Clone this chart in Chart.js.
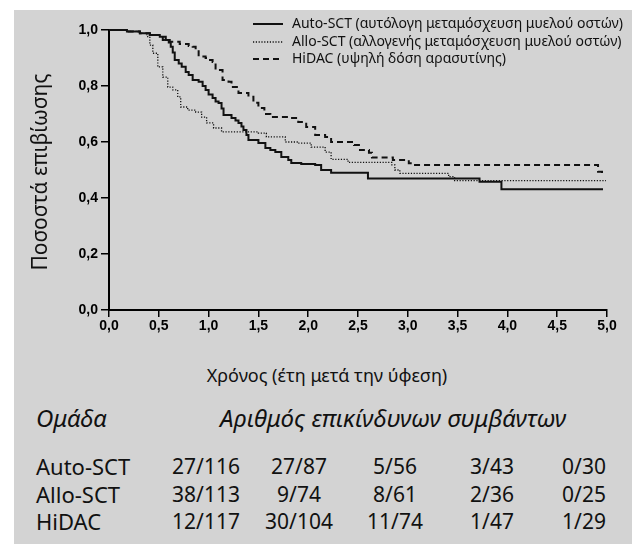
<!DOCTYPE html>
<html>
<head>
<meta charset="utf-8">
<script src="https://cdn.jsdelivr.net/npm/chart.js@4.4.1/dist/chart.umd.min.js"></script>
<style>
  html, body { margin: 0; padding: 0; background: #fff; }
  #wrap { position: relative; width: 632px; height: 544px; overflow: hidden; }
  #panel { position: absolute; left: 14px; top: 10px; width: 618px; height: 534px; background: #d3d3d3; }
  #c { position: absolute; left: 0; top: 0; }
  .t { position: absolute; font-family: "Noto Sans", sans-serif; color: #111; white-space: nowrap; height: 30px; line-height: 30px; }
</style>
</head>
<body>
<div id="wrap">
  <div id="panel"></div>
  <canvas id="c" width="632" height="340"></canvas>
</div>
<script>
// legend / series names
const seriesNames = [
  'Auto-SCT (αυτόλογη μεταμόσχευση μυελού οστών)',
  'Allo-SCT (αλλογενής μεταμόσχευση μυελού οστών)',
  'HiDAC (υψηλή δόση αρασυτίνης)'
];

// Kaplan-Meier steps (time in years, survival fraction)
const autoT = [0, 0.18, 0.31, 0.41, 0.51, 0.57, 0.60, 0.62, 0.64, 0.66, 0.70, 0.73, 0.77, 0.80, 0.84, 0.90, 0.94, 0.97, 1.00, 1.04, 1.07, 1.10, 1.13, 1.15, 1.23, 1.27, 1.30, 1.33, 1.35, 1.38, 1.40, 1.50, 1.57, 1.62, 1.67, 1.73, 1.80, 1.83, 1.93, 2.07, 2.13, 2.23, 2.60, 3.72, 3.94, 4.96];
const autoS = [1.0, 0.995, 0.988, 0.982, 0.976, 0.964, 0.955, 0.94, 0.92, 0.893, 0.88, 0.869, 0.85, 0.839, 0.821, 0.815, 0.80, 0.786, 0.77, 0.757, 0.745, 0.739, 0.72, 0.696, 0.686, 0.677, 0.668, 0.655, 0.643, 0.625, 0.607, 0.596, 0.579, 0.571, 0.564, 0.546, 0.536, 0.525, 0.521, 0.518, 0.50, 0.49, 0.47, 0.458, 0.431, 0.431];

const alloT = [0, 0.18, 0.31, 0.38, 0.41, 0.44, 0.49, 0.54, 0.59, 0.64, 0.69, 0.72, 0.79, 0.87, 0.93, 0.98, 1.05, 1.13, 1.50, 1.58, 1.77, 1.90, 2.03, 2.17, 2.23, 2.40, 2.84, 2.87, 2.92, 3.41, 3.47, 4.99];
const alloS = [1.0, 0.995, 0.988, 0.976, 0.946, 0.917, 0.868, 0.832, 0.796, 0.786, 0.761, 0.725, 0.714, 0.707, 0.689, 0.668, 0.65, 0.636, 0.632, 0.618, 0.60, 0.596, 0.582, 0.564, 0.538, 0.527, 0.518, 0.50, 0.488, 0.476, 0.462, 0.462];

const hidacT = [0, 0.18, 0.31, 0.41, 0.54, 0.61, 0.71, 0.80, 0.84, 0.87, 0.90, 0.97, 1.00, 1.04, 1.07, 1.14, 1.20, 1.23, 1.30, 1.40, 1.45, 1.50, 1.56, 1.62, 1.80, 1.90, 1.98, 2.07, 2.17, 2.23, 2.46, 2.52, 2.61, 2.64, 2.85, 3.01, 3.06, 4.91, 4.95];
const hidacS = [1.0, 0.995, 0.988, 0.982, 0.964, 0.958, 0.95, 0.943, 0.94, 0.929, 0.905, 0.90, 0.893, 0.886, 0.857, 0.821, 0.815, 0.796, 0.775, 0.762, 0.74, 0.721, 0.70, 0.689, 0.686, 0.671, 0.654, 0.625, 0.618, 0.60, 0.589, 0.571, 0.562, 0.545, 0.536, 0.524, 0.518, 0.494, 0.486];

// table under the chart
const groups = ['Auto-SCT', 'Allo-SCT', 'HiDAC'];
const autoRisk = ['27/116', '27/87', '5/56', '3/43', '0/30'];
const alloRisk = ['38/113', '9/74', '8/61', '2/36', '0/25'];
const hidacRisk = ['12/117', '30/104', '11/74', '1/47', '1/29'];

const yTitle = 'Ποσοστά επιβίωσης';
const xTitle = 'Χρόνος (έτη μετά την ύφεση)';
const tableHead = ['Ομάδα', 'Αριθμός επικίνδυνων συμβάντων'];

function pts(ts, ss) {
  return ts.map((t, i) => ({ x: t, y: ss[i] }));
}

const styles = [
  { borderWidth: 2, borderDash: [] },
  { borderWidth: 1.3, borderDash: [1.2, 1.6] },
  { borderWidth: 2, borderDash: [6, 4] }
];

// legend + y title drawn by hand so they sit where the picture has them
const legendPlugin = {
  id: 'kmLegend',
  afterDraw(chart) {
    const ctx = chart.ctx;
    const rows = [24, 42, 59];
    ctx.save();
    ctx.font = '14px "Noto Sans"';
    ctx.textBaseline = 'middle';
    ctx.fillStyle = '#111';
    seriesNames.forEach((name, i) => {
      ctx.beginPath();
      ctx.strokeStyle = '#111';
      ctx.lineWidth = styles[i].borderWidth;
      ctx.setLineDash(styles[i].borderDash);
      ctx.moveTo(253, rows[i]);
      ctx.lineTo(283, rows[i]);
      ctx.stroke();
      ctx.fillText(name, 292, rows[i]);
    });
    ctx.restore();

    ctx.save();
    ctx.translate(41, 172);
    ctx.rotate(-Math.PI / 2);
    ctx.font = '21px "Noto Sans"';
    ctx.fillStyle = '#111';
    ctx.textAlign = 'center';
    ctx.textBaseline = 'middle';
    ctx.fillText(yTitle, 0, 0);
    ctx.restore();
  }
};

const sets = [pts(autoT, autoS), pts(alloT, alloS), pts(hidacT, hidacS)];

new Chart(document.getElementById('c'), {
  type: 'line',
  data: {
    datasets: sets.map((d, i) => ({
      label: seriesNames[i],
      data: d,
      borderColor: '#111',
      borderWidth: styles[i].borderWidth,
      borderDash: styles[i].borderDash,
      pointRadius: 0,
      stepped: true,
      fill: false,
      clip: false
    }))
  },
  options: {
    responsive: false,
    animation: false,
    layout: { padding: { top: 30, right: 25, left: 0, bottom: 0 } },
    plugins: { legend: { display: false }, tooltip: { enabled: false } },
    scales: {
      x: {
        type: 'linear',
        min: 0,
        max: 5,
        afterFit(s) { s.height = 30; },
        grid: { drawOnChartArea: false, drawTicks: true, tickLength: 7, color: '#000', lineWidth: 1.5 },
        border: { display: true, color: '#000', width: 2 },
        ticks: {
          stepSize: 0.5,
          padding: 1,
          color: '#000',
          font: { family: 'Liberation Sans', size: 14, weight: 'bold' },
          callback: v => v.toFixed(1).replace('.', ',')
        }
      },
      y: {
        min: 0,
        max: 1,
        afterFit(s) { s.width = 109; },
        grid: { drawOnChartArea: false, drawTicks: true, tickLength: 8, color: '#000', lineWidth: 1.5 },
        border: { display: true, color: '#000', width: 2 },
        ticks: {
          stepSize: 0.2,
          padding: 3,
          color: '#000',
          font: { family: 'Liberation Sans', size: 14, weight: 'bold' },
          callback: v => v.toFixed(1).replace('.', ',')
        }
      }
    }
  },
  plugins: [legendPlugin]
});

// texts below the chart
const wrap = document.getElementById('wrap');
function put(text, left, cy, opts) {
  const d = document.createElement('div');
  d.className = 't';
  d.textContent = text;
  d.style.top = (cy - 15) + 'px';
  d.style.fontSize = (opts.size || 21) + 'px';
  if (opts.italic) d.style.fontStyle = 'italic';
  if (opts.center) {
    d.style.left = (left - 200) + 'px';
    d.style.width = '400px';
    d.style.textAlign = 'center';
  } else {
    d.style.left = left + 'px';
  }
  wrap.appendChild(d);
}

put(xTitle, 327, 375, { size: 18, center: true });
put(tableHead[0], 36, 418, { italic: true, size: 24 });
put(tableHead[1], 220, 418, { italic: true, size: 24 });

const colX = [206, 299, 395, 492, 584];
const rowY = [466, 494, 521];
[autoRisk, alloRisk, hidacRisk].forEach((row, r) => {
  put(groups[r], 36, rowY[r], { size: 22 });
  row.forEach((v, c) => put(v, colX[c], rowY[r], { center: true }));
});
</script>
</body>
</html>
